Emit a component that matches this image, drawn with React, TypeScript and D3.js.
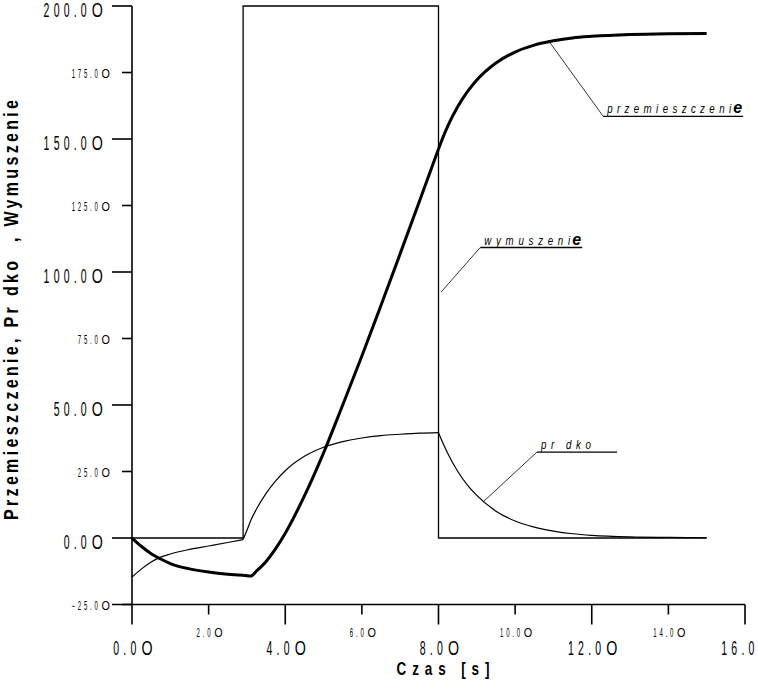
import React, { useEffect, useRef } from 'react';
import * as d3 from 'd3';

// czas [s] - wspolna os dla przemieszczenia i predkosci
const TIME = [0, 0.25, 0.5, 0.75, 1, 1.5, 2, 2.5, 2.9, 3.0, 3.1, 3.25, 3.5, 3.75, 4, 4.5, 5, 5.5, 6, 6.5, 7, 7.5, 8, 8.1, 8.25, 8.5, 8.75, 9, 9.5, 10, 10.5, 11, 11.5, 12, 13, 14, 15];
const PRZEMIESZCZENIE = [0, -3.2, -5.9, -7.9, -9.6, -11.6, -12.8, -13.6, -14.0, -14.2, -14.3, -12.4, -8.8, -4.0, 1.8, 15.8, 32.0, 50.0, 68.4, 87.5, 106.9, 126.5, 146.2, 150.0, 155.1, 162.1, 167.7, 172.2, 178.6, 182.7, 185.3, 186.9, 188.0, 188.6, 189.3, 189.6, 189.7];
const PREDKOSC = [-14.7, -11.6, -9.0, -7.2, -6.0, -4.3, -3.0, -1.7, -0.6, 2.9, 6.6, 10.9, 16.8, 21.5, 25.3, 30.7, 34.1, 36.2, 37.6, 38.5, 39.0, 39.4, 39.6, 36.2, 31.6, 25.1, 20.0, 16.0, 10.1, 6.4, 4.1, 2.6, 1.6, 1.0, 0.4, 0.2, 0.1];
// momenty zalaczenia / wylaczenia wymuszenia
const BREAKS = [2.9, 8];
const PULSE_TIME = [0, 2.9, 2.9, 8, 8, 15];
const WYMUSZENIE = [0, 0, 200, 200, 0, 0];

const X_TICKS = [0, 2, 4, 6, 8, 10, 12, 14, 16];
const Y_TICKS = [-25, 0, 25, 50, 75, 100, 125, 150, 175, 200];

const Y_TITLE = 'Przemieszczenie, Pr dko  , Wymuszenie';
const X_TITLE = 'Czas [s]';

// opisy krzywych: punkt na krzywej, zalamanie linii, koniec podkreslenia (w jednostkach danych)
const LABEL_TEXT = ['przemieszczeni', 'wymuszeni', 'pr dko'];
const LABEL_LAST = ['e', 'e', ''];
const LABEL_AT = [[10.86, 187.2], [8.07, 92.5], [9.16, 13.5]];
const LABEL_ELBOW = [[12.3, 158.5], [9.09, 109.2], [10.57, 32.3]];
const LABEL_END = [15.95, 11.75, 12.66];

const FONT = '"Liberation Sans", Arial, sans-serif';

type Sel = d3.Selection<SVGGElement, unknown, null, undefined>;

// etykieta w stylu "150.0O": waskie cyfry + szersze O
function tickLabel(parent: Sel, str: string, major: boolean, px: number, py: number, anchor: 'end' | 'middle') {
  const fs = major ? 21 : 12;
  const sx = 0.5;
  const lab = parent.append('g');
  const d = lab.append('text')
    .attr('transform', `scale(${sx},1)`)
    .attr('font-family', FONT)
    .attr('font-size', fs)
    .attr('letter-spacing', major ? 8.4 : 5.6)
    .attr('fill', '#000')
    .text(str);
  const dw = (d.node() as SVGTextElement).getComputedTextLength() * sx;
  lab.append('text')
    .attr('transform', `translate(${dw + (major ? 1 : 0.8)},0) scale(${major ? 0.68 : 0.9},1)`)
    .attr('font-family', FONT)
    .attr('font-size', fs)
    .attr('fill', '#000')
    .text('O');
  const bb = (lab.node() as SVGGElement).getBBox();
  const tx = anchor === 'end' ? px - (bb.x + bb.width) : px - (bb.x + bb.width / 2);
  lab.attr('transform', `translate(${tx},${py})`);
}

export default function App() {
  const svgRef = useRef<SVGSVGElement>(null);

  useEffect(() => {
    if (!svgRef.current) return;
    const svg = d3.select(svgRef.current);
    svg.selectAll('*').remove();

    const width = 758;
    const height = 686;
    svg.attr('width', width).attr('height', height).attr('viewBox', `0 0 ${width} ${height}`);
    svg.append('rect').attr('width', width).attr('height', height).attr('fill', '#fff');

    const x = d3.scaleLinear().domain([0, 16]).range([132, 745]);
    const y = d3.scaleLinear().domain([-25, 200]).range([604.5, 6]);

    const g = svg.append('g') as unknown as Sel;

    // osie
    g.append('line')
      .attr('x1', x(0)).attr('x2', x(0)).attr('y1', y(200)).attr('y2', y(-25))
      .attr('stroke', '#000').attr('stroke-width', 1.6);
    g.append('line')
      .attr('x1', x(0) - 20).attr('x2', x(16)).attr('y1', y(-25)).attr('y2', y(-25))
      .attr('stroke', '#000').attr('stroke-width', 1.6);

    const fmt = d3.format('.1f');

    // os Y
    Y_TICKS.forEach(v => {
      const major = v % 50 === 0;
      const py = y(v);
      g.append('line')
        .attr('x1', x(0) - (major ? 20 : 10)).attr('x2', x(0))
        .attr('y1', py).attr('y2', py)
        .attr('stroke', '#000').attr('stroke-width', 1.6);
      tickLabel(g, fmt(v), major, major ? 103 : 110, py + (major ? 11 : 5), 'end');
    });

    // os X
    X_TICKS.forEach(v => {
      const major = v % 4 === 0;
      const px = x(v);
      g.append('line')
        .attr('x1', px).attr('x2', px)
        .attr('y1', y(-25)).attr('y2', y(-25) + (major ? 20 : 10))
        .attr('stroke', '#000').attr('stroke-width', 1.6);
      tickLabel(g, fmt(v), major, px + 1, major ? 655 : 637, 'middle');
    });

    // tytuly osi
    svg.append('text')
      .attr('transform', 'translate(18,310) rotate(-90) scale(0.8,1)')
      .attr('text-anchor', 'middle')
      .attr('font-family', FONT)
      .attr('font-weight', 'bold')
      .attr('font-size', 20)
      .attr('textLength', 420 / 0.8)
      .attr('lengthAdjust', 'spacing')
      .style('white-space', 'pre')
      .text(Y_TITLE);

    svg.append('text')
      .attr('transform', 'translate(443,675) scale(0.75,1)')
      .attr('text-anchor', 'middle')
      .attr('font-family', FONT)
      .attr('font-weight', 'bold')
      .attr('font-size', 18)
      .attr('textLength', 93 / 0.75)
      .attr('lengthAdjust', 'spacing')
      .text(X_TITLE);

    // wymuszenie (prostokat)
    const pulse = PULSE_TIME.map((t, i) => [t, WYMUSZENIE[i]] as [number, number]);
    g.append('path')
      .attr('d', d3.line().x(d => x(d[0])).y(d => y(d[1]))(pulse))
      .attr('fill', 'none').attr('stroke', '#000').attr('stroke-width', 1.3);

    // krzywe gladkie, lamane w chwilach przelaczenia
    const segments = (vals: number[]) => {
      const pts = TIME.map((t, i) => [t, vals[i]] as [number, number]);
      const edges = [0, ...BREAKS, Infinity];
      const out: [number, number][][] = [];
      for (let k = 0; k < edges.length - 1; k++) {
        out.push(pts.filter(p => p[0] >= edges[k] && p[0] <= edges[k + 1]));
      }
      return out;
    };
    const smooth = d3.line().curve(d3.curveMonotoneX).x(d => x(d[0])).y(d => y(d[1]));

    segments(PREDKOSC).forEach(seg => {
      g.append('path').attr('d', smooth(seg))
        .attr('fill', 'none').attr('stroke', '#000').attr('stroke-width', 1.2);
    });
    segments(PRZEMIESZCZENIE).forEach(seg => {
      g.append('path').attr('d', smooth(seg))
        .attr('fill', 'none').attr('stroke', '#000').attr('stroke-width', 3)
        .attr('stroke-linejoin', 'round');
    });

    // opisy
    LABEL_TEXT.forEach((name, i) => {
      const [ax, ay] = LABEL_AT[i];
      const [ex, ey] = LABEL_ELBOW[i];
      const x0 = x(ex);
      const x1 = x(LABEL_END[i]);
      const base = y(ey) - 3;
      g.append('line')
        .attr('x1', x(ax)).attr('y1', y(ay)).attr('x2', x0).attr('y2', y(ey))
        .attr('stroke', '#000').attr('stroke-width', 0.8);
      g.append('line')
        .attr('x1', x0).attr('y1', y(ey)).attr('x2', x1).attr('y2', y(ey))
        .attr('stroke', '#000').attr('stroke-width', 1.4);
      const hasLast = !!LABEL_LAST[i];
      const len = hasLast ? (x1 - 12) - (x0 + 4) : 50;
      const sx = 0.75;
      g.append('text')
        .attr('transform', `translate(${x0 + 4},${base}) scale(${sx},1)`)
        .attr('font-family', FONT)
        .attr('font-style', 'italic')
        .attr('font-size', 13)
        .attr('textLength', len / sx)
        .attr('lengthAdjust', 'spacing')
        .style('white-space', 'pre')
        .text(name);
      if (hasLast) {
        g.append('text')
          .attr('x', x1 - 1).attr('y', base)
          .attr('text-anchor', 'end')
          .attr('font-family', FONT)
          .attr('font-style', 'italic')
          .attr('font-weight', 'bold')
          .attr('font-size', 16)
          .text(LABEL_LAST[i]);
      }
    });
  }, []);

  return (
    <svg ref={svgRef} style={{ position: 'absolute', left: 0, top: 0, display: 'block' }} />
  );
}
